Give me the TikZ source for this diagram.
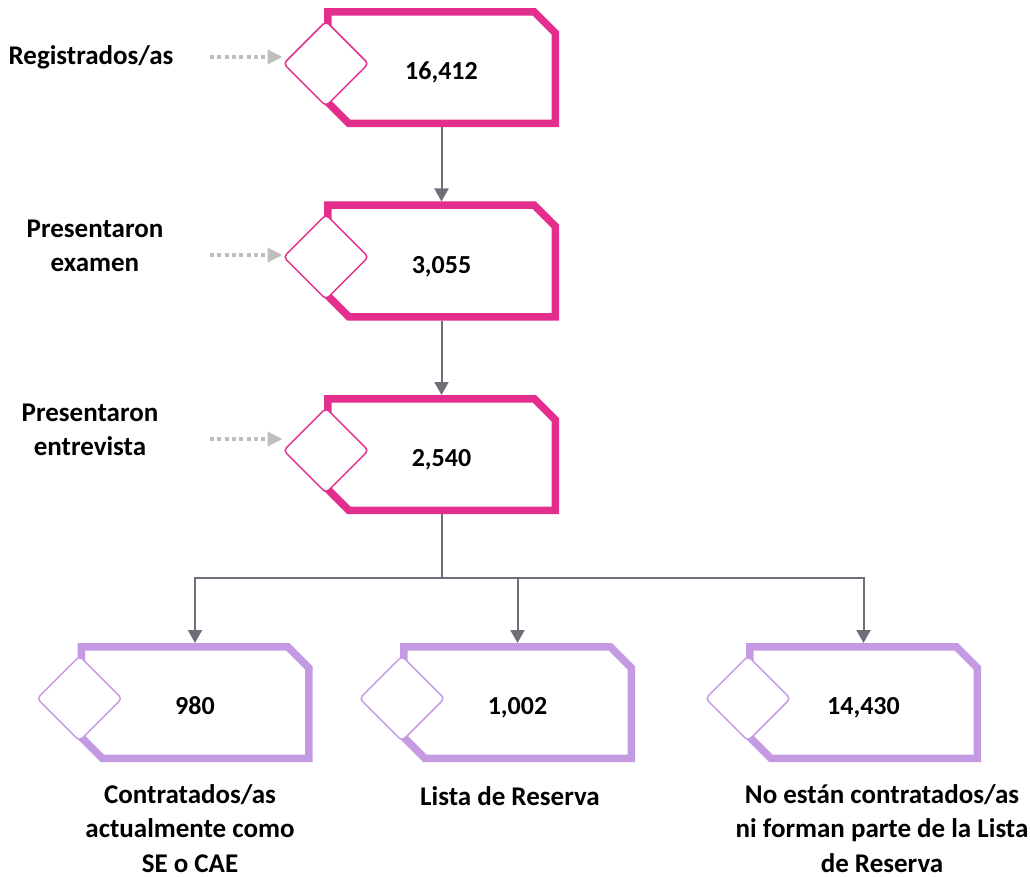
\documentclass[tikz,border=0pt]{standalone}
\usepackage{fontspec}
\setmainfont{Carlito}
\usetikzlibrary{shapes.misc,arrows.meta}
\definecolor{rosa}{RGB}{228,46,142}
\definecolor{lila}{RGB}{196,155,227}
\definecolor{gris}{RGB}{108,110,120}
\definecolor{grisclaro}{RGB}{191,191,191}

\begin{document}
\begin{tikzpicture}[x=1pt,y=-1pt,
    caja/.style={chamfered rectangle,chamfered rectangle corners={north east,south west},
        chamfered rectangle xsep=10.5pt,chamfered rectangle ysep=10.5pt,draw=#1,line width=7.5pt,fill=white,
        minimum width=227.5pt,minimum height=111.5pt,inner sep=0pt,
        font=\bfseries\fontsize{26}{31}\selectfont,text height=24pt,text depth=0pt},
    rombo/.style={draw=#1,fill=white,line width=1.5pt,rounded corners=4pt,rotate=45,minimum size=60pt,inner sep=0pt},
    etiqueta/.style={align=center,inner sep=0pt,font=\bfseries\fontsize{27}{34.5}\selectfont},
    flecha/.style={draw=gris,line width=2pt,-{Triangle[width=14pt,length=13pt]}},
    punteada/.style={draw=grisclaro,line width=3.5pt,dash pattern=on 4pt off 3.3pt,-{Triangle[width=14pt,length=15pt]}}]
    \useasboundingbox(0,0)rectangle(1030,877);
    % cajas
    \node[caja=rosa](reg)at(441.5,67.7){16,412};
    \node[caja=rosa](exa)at(441.5,261){3,055};
    \node[caja=rosa](ent)at(441.5,454.5){2,540};
    \node[caja=lila](con)at(195,702.5){980};
    \node[caja=lila](lis)at(517.5,702.5){1,002};
    \node[caja=lila](nos)at(863.5,702.5){14,430};
    \foreach \c/\col in {reg/rosa,exa/rosa,ent/rosa,con/lila,lis/lila,nos/lila}
        \node[rombo=\col](\c r)at([xshift=2pt,yshift=4pt]\c.west){};
    % etiquetas
    \node[etiqueta](regt)at(91,57){Registrados/as};
    \node[etiqueta](exat)at(95,246){Presentaron\\examen};
    \node[etiqueta](entt)at(90,430){Presentaron\\entrevista};
    \node[etiqueta](cont)at(190,828.5){Contratados/as\\actualmente como\\SE o CAE};
    \node[etiqueta](list)at(510,796){Lista de Reserva};
    \node[etiqueta](nost)at(882,828.5){No están contratados/as\\ni forman parte de la Lista\\de Reserva};
    % flechas punteadas
    \coordinate(regp)at(210,57);
    \coordinate(exap)at(210,255);
    \coordinate(entp)at(210,439);
    \foreach \c in {reg,exa,ent}
        \draw[punteada](\c p)--(\c p -| \c r.north west);
    % conectores
    \draw[flecha](reg.south)--(exa.north);
    \draw[flecha](exa.south)--(ent.north);
    \coordinate(split)at(441.5,578);
    \draw[gris,line width=2pt](ent.south)--(split);
    \draw[flecha](split)-|(con.north);
    \draw[flecha](split)-|(lis.north);
    \draw[flecha](split)-|(nos.north);
\end{tikzpicture}
\end{document}
